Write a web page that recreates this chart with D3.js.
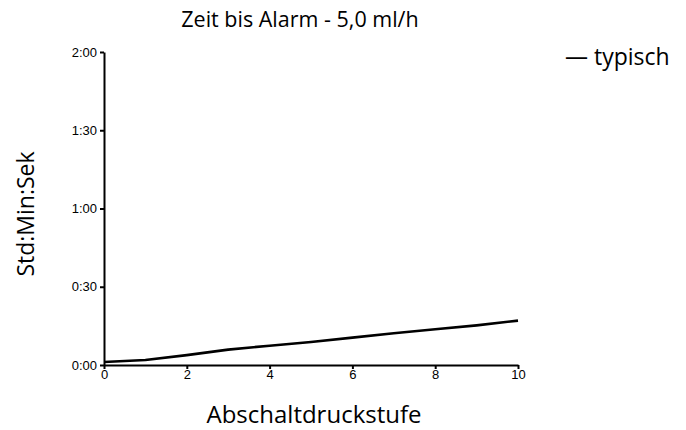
<!DOCTYPE html>
<html><head><meta charset="utf-8">
<script src="https://cdn.jsdelivr.net/npm/d3@7"></script>
<style>body{margin:0;background:#fff}</style>
</head><body>
<svg id="c" width="686" height="430"></svg>
<script>
const stufen = [0,1,2,3,4,5,6,7,8,9,10];
const typischMin = [1.15,1.9,3.8,5.9,7.4,8.8,10.5,12.2,13.7,15.2,17.0];
const yTicks = [0,30,60,90,120];
const yTickLabels = ["0:00","0:30","1:00","1:30","2:00"];
const xTicks = [0,2,4,6,8,10];
const title = "Zeit bis Alarm - 5,0 ml/h";
const xTitle = "Abschaltdruckstufe";
const yTitle = "Std:Min:Sek";
const legendLabel = "typisch";

const svg = d3.select("#c");
const x = d3.scaleLinear().domain([0,10]).range([104,518]);
const y = d3.scaleLinear().domain([0,120]).range([365,52]);
const tf = "Liberation Sans, Arial, sans-serif";
const lf = "'Open Sans', 'Noto Sans', sans-serif";

const xa = svg.append("g").attr("transform","translate(0,365)")
  .call(d3.axisBottom(x).tickValues(xTicks).tickSize(4).tickSizeOuter(0).tickPadding(1));
const ya = svg.append("g").attr("transform","translate(104,0)")
  .call(d3.axisLeft(y).tickValues(yTicks).tickFormat((d,i)=>yTickLabels[i]).tickSize(4).tickSizeOuter(0).tickPadding(3));
[xa,ya].forEach(a=>{
  a.attr("font-size",13).attr("font-family",tf);
  a.selectAll("path,line").attr("stroke","#000").attr("stroke-width",2);
  a.selectAll("text").attr("font-family",tf).attr("font-size",13).attr("fill","#000");
});

const line = d3.line().x((d,i)=>x(stufen[i])).y(d=>y(d));
svg.append("path").datum(typischMin).attr("d",line)
  .attr("fill","none").attr("stroke","#000").attr("stroke-width",2.6)
  .attr("stroke-linejoin","round");

svg.append("text").attr("x",300).attr("y",27).attr("text-anchor","middle")
  .attr("font-family",lf).attr("font-size",21.5).text(title);
svg.append("text").attr("x",314).attr("y",423).attr("text-anchor","middle")
  .attr("font-family",lf).attr("font-size",24).text(xTitle);
svg.append("text").attr("transform","translate(34,214) rotate(-90)").attr("text-anchor","middle")
  .attr("font-family",lf).attr("font-size",23).text(yTitle);
svg.append("text").attr("x",565).attr("y",65)
  .attr("font-family",lf).attr("font-size",23).text("— " + legendLabel);
</script>
</body></html>
